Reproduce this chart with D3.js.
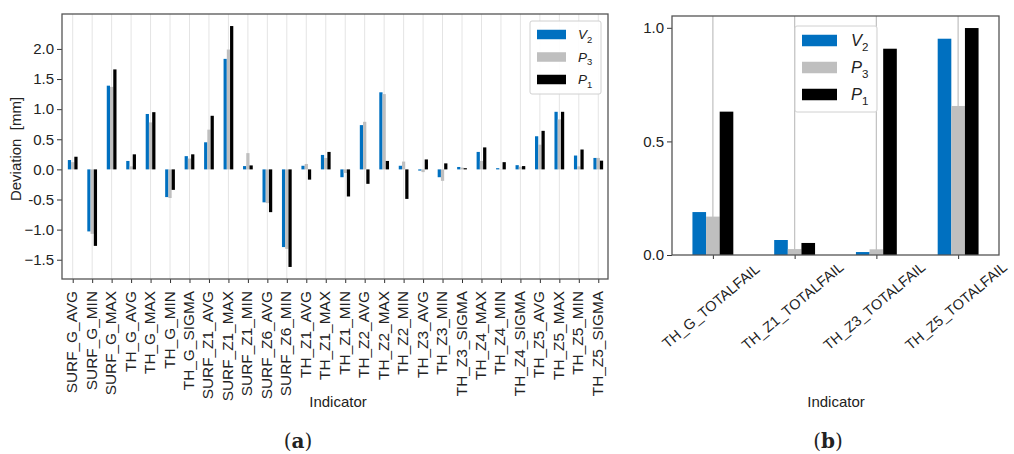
<!DOCTYPE html>
<html>
<head>
<meta charset="utf-8">
<script src="https://cdn.jsdelivr.net/npm/d3@7"></script>
<style>
  body { margin: 0; background: #fff; }
  text { font-family: "Liberation Sans", Arial, sans-serif; fill: #222; }
</style>
</head>
<body>
<script>
// panel (a) data
var indicatorsA = ["SURF_G_AVG", "SURF_G_MIN", "SURF_G_MAX", "TH_G_AVG", "TH_G_MAX", "TH_G_MIN",
  "TH_G_SIGMA", "SURF_Z1_AVG", "SURF_Z1_MAX", "SURF_Z1_MIN", "SURF_Z6_AVG", "SURF_Z6_MIN",
  "TH_Z1_AVG", "TH_Z1_MAX", "TH_Z1_MIN", "TH_Z2_AVG", "TH_Z2_MAX", "TH_Z2_MIN", "TH_Z3_AVG",
  "TH_Z3_MIN", "TH_Z3_SIGMA", "TH_Z4_MAX", "TH_Z4_MIN", "TH_Z4_SIGMA", "TH_Z5_AVG", "TH_Z5_MAX",
  "TH_Z5_MIN", "TH_Z5_SIGMA"];
var v2A = [0.155, -1.03, 1.39, 0.14, 0.92, -0.46, 0.22, 0.45, 1.835, 0.055, -0.547, -1.29, 0.06, 0.24,
  -0.13, 0.735, 1.28, 0.06, -0.02, -0.13, 0.04, 0.29, 0.02, 0.07, 0.55, 0.956, 0.23, 0.19];
var p3A = [0.12, -1.07, 1.37, 0.05, 0.78, -0.475, 0.18, 0.66, 1.99, 0.27, -0.56, -1.32, 0.09, 0.19,
  -0.06, 0.79, 1.25, 0.13, -0.045, -0.19, 0.03, 0.14, 0.005, 0.045, 0.41, 0.83, 0.05, 0.19];
var p1A = [0.21, -1.27, 1.66, 0.25, 0.95, -0.34, 0.25, 0.89, 2.38, 0.066, -0.71, -1.62, -0.17, 0.29,
  -0.45, -0.24, 0.14, -0.49, 0.165, 0.1, 0.02, 0.365, 0.12, 0.055, 0.64, 0.956, 0.33, 0.145];
var yTicksA = [-1.5, -1.0, -0.5, 0.0, 0.5, 1.0, 1.5, 2.0];
var yTickLabelsA = ["\u22121.5", "\u22121.0", "-0.5", "0.0", "0.5", "1.0", "1.5", "2.0"];

// panel (b) data
var indicatorsB = ["TH_G_TOTALFAIL", "TH_Z1_TOTALFAIL", "TH_Z3_TOTALFAIL", "TH_Z5_TOTALFAIL"];
var v2B = [0.189, 0.066, 0.013, 0.952];
var p3B = [0.169, 0.026, 0.025, 0.656];
var p1B = [0.631, 0.053, 0.908, 0.999];
var yTicksB = [0.0, 0.5, 1.0];

var seriesNames = [["V", "2"], ["P", "3"], ["P", "1"]];
var colors = ["#0070c0", "#bfbfbf", "#000000"];

var svg = d3.select("body").append("svg")
    .attr("width", 1014)
    .attr("height", 454);

//draw one grouped bar panel
function drawPanel(opt){
    var g = svg.append("g");
    var x = d3.scaleLinear().domain(opt.xDomain).range([opt.left, opt.right]);
    var y = d3.scaleLinear().domain(opt.yDomain).range([opt.bottom, opt.top]);
    var idx = d3.range(opt.cats.length);
    var bw = 0.5 / 3; // pandas default width 0.5 split in three

    // vertical grid
    g.selectAll(".grid").data(idx).enter().append("line")
        .attr("x1", function(d){ return x(d); })
        .attr("x2", function(d){ return x(d); })
        .attr("y1", opt.top).attr("y2", opt.bottom)
        .attr("stroke", opt.gridColor).attr("stroke-width", opt.gridWidth);

    // bars
    opt.series.forEach(function(vals, s){
        g.selectAll(".bar" + s).data(vals).enter().append("rect")
            .attr("x", function(d, i){ return x(i - 0.25 + s * bw); })
            .attr("width", x(bw) - x(0))
            .attr("y", function(d){ return y(Math.max(0, d)); })
            .attr("height", function(d){ return Math.abs(y(d) - y(0)); })
            .attr("fill", colors[s]);
    });

    // y axis
    var ya = g.append("g").attr("transform", "translate(" + opt.left + ",0)")
        .call(d3.axisLeft(y).tickValues(opt.yTicks).tickSize(5).tickPadding(3)
            .tickFormat(function(d, i){ return opt.yLabels[i]; }));
    ya.select(".domain").remove();
    ya.selectAll("line").attr("stroke", "#333");
    ya.selectAll("text").style("font-size", "15px").attr("fill", "#222");

    // x axis
    var xa = g.append("g").attr("transform", "translate(0," + opt.bottom + ")")
        .call(d3.axisBottom(x).tickValues(idx).tickSize(4).tickFormat(""));
    xa.select(".domain").remove();
    xa.selectAll("line").attr("stroke", "#333");

    // frame
    g.append("rect")
        .attr("x", opt.left).attr("y", opt.top)
        .attr("width", opt.right - opt.left).attr("height", opt.bottom - opt.top)
        .attr("fill", "none").attr("stroke", "#555").attr("stroke-width", 1.3);

    return {g: g, x: x, y: y};
}

// legend with mathtext-like labels
function drawLegend(g, box){
    g.append("rect")
        .attr("x", box.x).attr("y", box.y).attr("width", box.w).attr("height", box.h)
        .attr("rx", 2).attr("fill", "#fff").attr("fill-opacity", 0.9)
        .attr("stroke", "#d0d0d0");
    seriesNames.forEach(function(n, i){
        var yy = box.y + box.first + i * box.step;
        g.append("rect")
            .attr("x", box.x + box.px).attr("y", yy - box.ph / 2)
            .attr("width", box.pw).attr("height", box.ph)
            .attr("fill", colors[i]);
        var t = g.append("text")
            .attr("x", box.x + box.tx).attr("y", yy + box.fs * 0.36)
            .style("font-size", box.fs + "px");
        t.append("tspan").style("font-style", "italic").text(n[0]);
        t.append("tspan").attr("dy", box.fs * 0.25).style("font-size", (box.fs * 0.7) + "px").text(n[1]);
    });
}

// panel (a)
var a = drawPanel({
    cats: indicatorsA, series: [v2A, p3A, p1A],
    left: 62, right: 608, top: 14, bottom: 279,
    xDomain: [-0.55, 27.5], yDomain: [-1.82, 2.58],
    yTicks: yTicksA, yLabels: yTickLabelsA,
    gridColor: "#e4e4e4", gridWidth: 1
});

a.g.selectAll(".xlab").data(indicatorsA).enter().append("text")
    .attr("transform", function(d, i){ return "translate(" + (a.x(i) - 1) + ",291) rotate(-90)"; })
    .attr("text-anchor", "end")
    .attr("dominant-baseline", "central")
    .style("font-size", "15.4px")
    .text(function(d){ return d; });

a.g.append("text")
    .attr("transform", "translate(21,149) rotate(-90)")
    .attr("text-anchor", "middle")
    .style("font-size", "15px")
    .attr("xml:space", "preserve")
    .text("Deviation  [mm]");

a.g.append("text").attr("x", 338).attr("y", 407).attr("text-anchor", "middle")
    .style("font-size", "15px").text("Indicator");

drawLegend(a.g, {x: 530, y: 21, w: 71, h: 73, first: 13.5, step: 22.5,
    px: 7, pw: 29, ph: 9.5, tx: 48, fs: 13.5});

// panel (b)
var b = drawPanel({
    cats: indicatorsB, series: [v2B, p3B, p1B],
    left: 672, right: 999, top: 16, bottom: 255,
    xDomain: [-0.5, 3.5], yDomain: [0, 1.052],
    yTicks: yTicksB, yLabels: ["0.0", "0.5", "1.0"],
    gridColor: "#c4c4c4", gridWidth: 1.3
});

b.g.selectAll(".xlab").data(indicatorsB).enter().append("text")
    .attr("transform", function(d, i){ return "translate(" + (b.x(i) - 2) + ",306) rotate(-40)"; })
    .attr("text-anchor", "middle")
    .attr("dominant-baseline", "central")
    .style("font-size", "14.5px")
    .text(function(d){ return d; });

b.g.append("text").attr("x", 836).attr("y", 407).attr("text-anchor", "middle")
    .style("font-size", "15px").text("Indicator");

drawLegend(b.g, {x: 795, y: 26, w: 82, h: 86, first: 14.5, step: 27,
    px: 7, pw: 35, ph: 11.5, tx: 56, fs: 16.5});

// captions
[["a", 298], ["b", 828]].forEach(function(c){
    var t = svg.append("text").attr("x", c[1]).attr("y", 448).attr("text-anchor", "middle")
        .style("font-family", "'DejaVu Serif', 'Liberation Serif', serif")
        .style("font-size", "20px").attr("fill", "#000");
    t.append("tspan").text("(");
    t.append("tspan").style("font-weight", "bold").text(c[0]);
    t.append("tspan").text(")");
});
</script>
</body>
</html>
